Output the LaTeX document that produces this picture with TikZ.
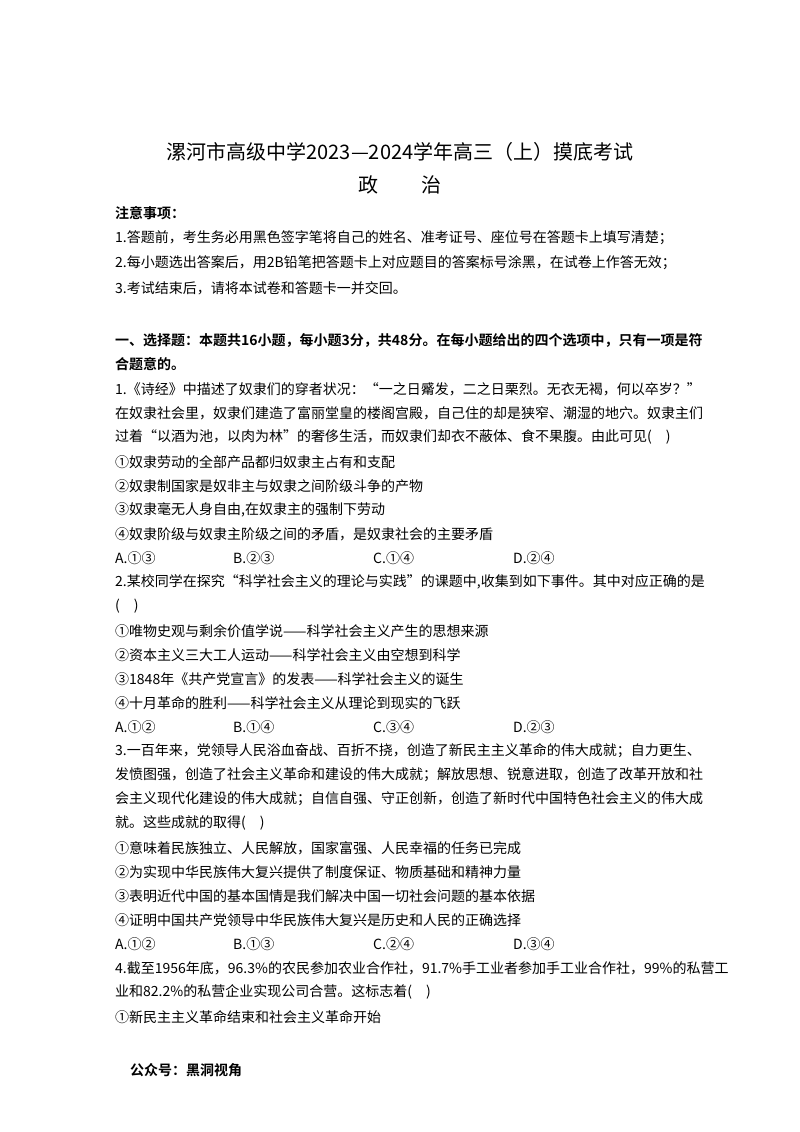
\documentclass[tikz,border=0pt]{standalone}
\usepackage{fontspec}
\setmainfont{Liberation Serif}
\newfontfamily\cjk{Noto Sans CJK SC}
\newfontfamily\cjkb{Noto Sans CJK SC Bold}
\begin{document}
\begin{tikzpicture}[x=1pt,y=-1pt,
  tl/.style={anchor=west,inner sep=0pt,font=\cjk\fontsize{14}{14}\selectfont},
  tb/.style={anchor=west,inner sep=0pt,font=\cjkb\fontsize{14}{14}\selectfont},
  ttl/.style={anchor=center,inner sep=0pt,font=\cjk\fontsize{20}{20}\selectfont}]
\useasboundingbox (0,0) rectangle (800,1132);
\node[ttl] (t1) at (400,152) {漯河市高级中学2023—2024学年高三（上）摸底考试};
\node[ttl] (t2) at (400,185) {政\hspace{2.2em}治};
\node[tb] (n0) at (115,213) {注意事项：};
\node[tl] (n1) at (115,238) {1.答题前，考生务必用黑色签字笔将自己的姓名、准考证号、座位号在答题卡上填写清楚；};
\node[tl] (n2) at (115,263) {2.每小题选出答案后，用2B铅笔把答题卡上对应题目的答案标号涂黑，在试卷上作答无效；};
\node[tl] (n3) at (115,288) {3.考试结束后，请将本试卷和答题卡一并交回。};
\node[tb] (s1) at (115,340) {一、选择题：本题共16小题，每小题3分，共48分。在每小题给出的四个选项中，只有一项是符};
\node[tb] (s2) at (115,364) {合题意的。};
\node[tl] (q1a) at (115,389) {1.《诗经》中描述了奴隶们的穿者状况：“一之日觱发，二之日栗烈。无衣无褐，何以卒岁？”};
\node[tl] (q1b) at (115,413) {在奴隶社会里，奴隶们建造了富丽堂皇的楼阁宫殿，自己住的却是狭窄、潮湿的地穴。奴隶主们};
\node[tl] (q1c) at (115,437) {过着“以酒为池，以肉为林”的奢侈生活，而奴隶们却衣不蔽体、食不果腹。由此可见(\quad)};
\node[tl] (q1d) at (115,462) {①奴隶劳动的全部产品都归奴隶主占有和支配};
\node[tl] (q1e) at (115,486) {②奴隶制国家是奴非主与奴隶之间阶级斗争的产物};
\node[tl] (q1f) at (115,510) {③奴隶毫无人身自由,在奴隶主的强制下劳动};
\node[tl] (q1g) at (115,534) {④奴隶阶级与奴隶主阶级之间的矛盾，是奴隶社会的主要矛盾};
\node[tl] (q1A) at (115,558) {A.①③};
\node[tl] (q1B) at (233,558) {B.②③};
\node[tl] (q1C) at (373,558) {C.①④};
\node[tl] (q1D) at (513,558) {D.②④};
\node[tl] (q2a) at (115,582) {2.某校同学在探究“科学社会主义的理论与实践”的课题中,收集到如下事件。其中对应正确的是};
\node[tl] (q2b) at (115,606) {(\quad)};
\node[tl] (q2c) at (115,631) {①唯物史观与剩余价值学说——科学社会主义产生的思想来源};
\node[tl] (q2d) at (115,655) {②资本主义三大工人运动——科学社会主义由空想到科学};
\node[tl] (q2e) at (115,679) {③1848年《共产党宣言》的发表——科学社会主义的诞生};
\node[tl] (q2f) at (115,703) {④十月革命的胜利——科学社会主义从理论到现实的飞跃};
\node[tl] (q2A) at (115,727) {A.①②};
\node[tl] (q2B) at (233,727) {B.①④};
\node[tl] (q2C) at (373,727) {C.③④};
\node[tl] (q2D) at (513,727) {D.②③};
\node[tl] (q3a) at (115,751) {3.一百年来，党领导人民浴血奋战、百折不挠，创造了新民主主义革命的伟大成就；自力更生、};
\node[tl] (q3b) at (115,775) {发愤图强，创造了社会主义革命和建设的伟大成就；解放思想、锐意进取，创造了改革开放和社};
\node[tl] (q3c) at (115,799) {会主义现代化建设的伟大成就；自信自强、守正创新，创造了新时代中国特色社会主义的伟大成};
\node[tl] (q3d) at (115,823) {就。这些成就的取得(\quad)};
\node[tl] (q3e) at (115,848) {①意味着民族独立、人民解放，国家富强、人民幸福的任务已完成};
\node[tl] (q3f) at (115,872) {②为实现中华民族伟大复兴提供了制度保证、物质基础和精神力量};
\node[tl] (q3g) at (115,896) {③表明近代中国的基本国情是我们解决中国一切社会问题的基本依据};
\node[tl] (q3h) at (115,920) {④证明中国共产党领导中华民族伟大复兴是历史和人民的正确选择};
\node[tl] (q3A) at (115,944) {A.①②};
\node[tl] (q3B) at (233,944) {B.①③};
\node[tl] (q3C) at (373,944) {C.②④};
\node[tl] (q3D) at (513,944) {D.③④};
\node[tl] (q4a) at (115,968) {4.截至1956年底，96.3\%的农民参加农业合作社，91.7\%手工业者参加手工业合作社，99\%的私营工};
\node[tl] (q4b) at (115,992) {业和82.2\%的私营企业实现公司合营。这标志着(\quad)};
\node[tl] (q4c) at (115,1017) {①新民主主义革命结束和社会主义革命开始};
\node[tb] (ft) at (130,1070) {公众号：黑洞视角};
\end{tikzpicture}
\end{document}
